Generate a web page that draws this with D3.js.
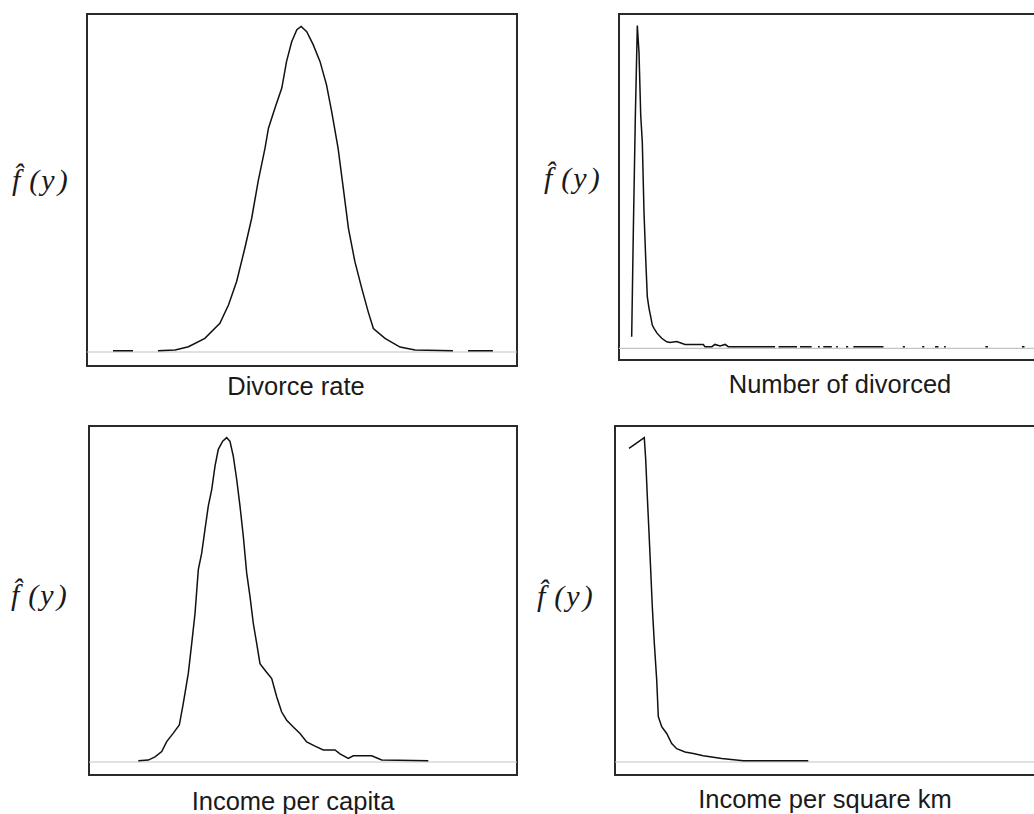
<!DOCTYPE html>
<html>
<head>
<meta charset="utf-8">
<script src="https://cdn.jsdelivr.net/npm/d3@7"></script>
<style>
  html, body { margin: 0; padding: 0; background: #fff; }
  svg { display: block; }
</style>
</head>
<body>
<svg id="chart" width="1034" height="814"></svg>
<script>
// ---------- DATA (x in relative units 0-100 of each panel, y = estimated density, peak = 1) ----------
const panelTitles = ["Divorce rate", "Number of divorced", "Income per capita", "Income per square km"];
const yLabel = "f\u0302";

const divorceRateX = [6.05, 10.7, null, 16.5, 20.5, 23.6, 27.4, 30.9, 32.9, 34.8, 36.7, 38.3, 39.8, 41.4, 42.2, 43.7, 45.3, 46.4, 47.6, 48.8, 49.8, 51.1, 52.6, 54.2, 55.7, 56.9, 58.4, 59.6, 60.8, 62.3, 63.9, 65.4, 66.6, 69.3, 72.8, 76.3, 85.1, null, 88.6, 94.4];
const divorceRateY = [0.004, 0.004, null, 0.004, 0.006, 0.016, 0.042, 0.088, 0.144, 0.216, 0.318, 0.410, 0.523, 0.625, 0.686, 0.747, 0.809, 0.890, 0.951, 0.988, 0.998, 0.982, 0.942, 0.890, 0.819, 0.737, 0.624, 0.502, 0.379, 0.277, 0.195, 0.123, 0.072, 0.042, 0.015, 0.006, 0.004, null, 0.004, 0.004];

const numDivorcedX = [2.95, 3.33, 3.79, 4.26, 4.65, 5.05, 5.42, 5.81, 6.21, 6.58, 6.98, 7.37, 7.74, 8.14, 8.84, 9.93, 11.09, 11.86, 13.42, 15.35, 19.6, 20.0, 21.6, 22.3, 23.5, 24.7, 25.4, 36.3, null, 37.1, 41.4, null, 42.1, 44.8, null, 46.3, 46.7, null, 47.5, 49.5, null, 50.5, 50.9, null, 52.8, 53.3, null, 54.5, 61.5, null, 66.0, 66.5, null, 70.5, 71.0, null, 73.5, 74.3, null, 75.6, 76.0, null, 85.2, 85.8, null, 93.7, 94.3];
const numDivorcedY = [0.036, 0.361, 0.711, 1.000, 0.917, 0.722, 0.639, 0.423, 0.279, 0.160, 0.124, 0.098, 0.072, 0.062, 0.047, 0.031, 0.020, 0.018, 0.021, 0.012, 0.012, 0.005, 0.005, 0.012, 0.007, 0.012, 0.005, 0.005, null, 0.005, 0.005, null, 0.005, 0.005, null, 0.005, 0.005, null, 0.005, 0.005, null, 0.005, 0.005, null, 0.005, 0.005, null, 0.005, 0.005, null, 0.005, 0.005, null, 0.005, 0.005, null, 0.005, 0.005, null, 0.005, 0.005, null, 0.005, 0.005, null, 0.005, 0.005];

const incomeCapitaX = [11.52, 13.86, 15.42, 16.99, 18.15, 19.70, 21.10, 22.03, 23.20, 24.00, 24.77, 25.54, 26.33, 27.10, 27.87, 28.67, 29.44, 30.21, 31.24, 32.17, 32.94, 33.71, 34.51, 35.28, 36.05, 36.84, 37.62, 38.39, 39.18, 39.95, 41.12, 42.69, 43.85, 45.02, 46.19, 47.73, 49.30, 50.86, 52.80, 54.74, 57.48, 58.64, 60.58, 61.75, 66.05, 68.39, 79.28];
const incomeCapitaY = [0.004, 0.006, 0.016, 0.032, 0.063, 0.089, 0.114, 0.181, 0.273, 0.366, 0.458, 0.593, 0.644, 0.717, 0.789, 0.840, 0.912, 0.964, 0.989, 1.000, 0.989, 0.943, 0.871, 0.789, 0.696, 0.583, 0.510, 0.427, 0.366, 0.303, 0.283, 0.257, 0.201, 0.154, 0.129, 0.108, 0.088, 0.062, 0.049, 0.037, 0.037, 0.025, 0.011, 0.019, 0.019, 0.006, 0.004];

const incomeKmX = [3.26, 6.81, 7.14, 7.51, 7.91, 8.30, 8.67, 9.14, 9.70, 10.07, 10.86, 12.02, 13.19, 14.35, 16.28, 18.21, 20.53, 24.81, 29.84, 44.95];
const incomeKmY = [0.967, 1.000, 0.933, 0.820, 0.707, 0.593, 0.480, 0.367, 0.253, 0.140, 0.109, 0.088, 0.057, 0.041, 0.031, 0.026, 0.019, 0.011, 0.004, 0.004];

const xDomain = [0, 100];
const yDomain = [0, 1.036];

// ---------- LAYOUT ----------
const panels = [
  { xs: divorceRateX, ys: divorceRateY, box: { x: 87, y: 14, w: 430, h: 352 }, base: 352, title: { x: 296, y: 395 }, lab: { x: 12, y: 190 } },
  { xs: numDivorcedX, ys: numDivorcedY, box: { x: 619, y: 14, w: 430, h: 346 }, base: 348.3, title: { x: 840, y: 393 }, lab: { x: 544, y: 188 } },
  { xs: incomeCapitaX, ys: incomeCapitaY, box: { x: 89, y: 426, w: 428, h: 349 }, base: 762, title: { x: 293, y: 810 }, lab: { x: 11, y: 605 } },
  { xs: incomeKmX, ys: incomeKmY, box: { x: 615, y: 426, w: 430, h: 349 }, base: 762, title: { x: 825, y: 808 }, lab: { x: 537, y: 606 } }
];

const svg = d3.select("#chart");

panels.forEach((p, i) => {
  const x = d3.scaleLinear().domain(xDomain).range([p.box.x, p.box.x + p.box.w]);
  const y = d3.scaleLinear().domain(yDomain).range([p.base, p.box.y]);
  const g = svg.append("g");

  // frame
  g.append("rect")
    .attr("x", p.box.x).attr("y", p.box.y)
    .attr("width", p.box.w).attr("height", p.box.h)
    .attr("fill", "none").attr("stroke", "#2a2a2a").attr("stroke-width", 2);

  // zero baseline
  g.append("line")
    .attr("x1", x(xDomain[0])).attr("x2", x(xDomain[1]))
    .attr("y1", y(0)).attr("y2", y(0))
    .attr("stroke", "#c4c4c4").attr("stroke-width", 1.2);

  const pts = p.xs.map((v, k) => [v, p.ys[k]]);
  const line = d3.line()
    .defined(d => d[0] != null && d[1] != null)
    .x(d => x(d[0])).y(d => y(d[1]));

  g.append("path")
    .attr("d", line(pts))
    .attr("fill", "none").attr("stroke", "#111").attr("stroke-width", 1.5)
    .attr("stroke-linejoin", "miter");

  // title
  g.append("text")
    .attr("x", p.title.x).attr("y", p.title.y)
    .attr("text-anchor", "middle")
    .attr("font-family", "Liberation Sans, Arial, sans-serif")
    .attr("font-size", 25.5)
    .attr("fill", "#1a1a1a")
    .text(panelTitles[i]);

  // y label f̂(y)
  const t = g.append("text")
    .attr("x", p.lab.x).attr("y", p.lab.y)
    .attr("font-family", "Liberation Serif, Times New Roman, serif")
    .attr("font-style", "italic")
    .attr("font-size", 30)
    .attr("fill", "#1a1a1a");
  t.append("tspan").text(yLabel);
  t.append("tspan").attr("dx", 9).text("(");
  t.append("tspan").attr("dx", 2).text("y");
  t.append("tspan").attr("dx", 3).text(")");
});
</script>
</body>
</html>
